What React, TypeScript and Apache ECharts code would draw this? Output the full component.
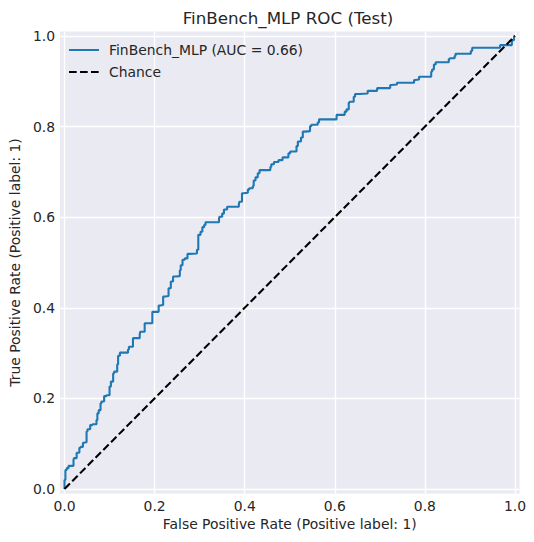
import { useEffect, useRef } from "react";
import * as echarts from "echarts";

// ─── Texts ─────────────────────────────────────────────────────────
const TITLE = "FinBench_MLP ROC (Test)";
const X_NAME = "False Positive Rate (Positive label: 1)";
const Y_NAME = "True Positive Rate (Positive label: 1)";
const MODEL_NAME = "FinBench_MLP (AUC = 0.66)";
const CHANCE_NAME = "Chance";

// ─── Axis ticks ────────────────────────────────────────────────────
const TICKS = [0, 0.2, 0.4, 0.6, 0.8, 1.0];

// ─── ROC vertices ──────────────────────────────────────────────────
const FPR = [
  0, 0.002, 0.005, 0.009, 0.012, 0.02, 0.021, 0.027, 0.033, 0.036, 0.041, 0.043, 0.049, 0.051,
  0.057, 0.062, 0.071, 0.073, 0.076, 0.08, 0.082, 0.088, 0.093, 0.1, 0.103, 0.108, 0.11, 0.117,
  0.119, 0.123, 0.126, 0.141, 0.143, 0.152, 0.154, 0.167, 0.168, 0.178, 0.181, 0.195, 0.196,
  0.209, 0.212, 0.219, 0.224, 0.231, 0.236, 0.241, 0.246, 0.256, 0.258, 0.262, 0.267, 0.273,
  0.277, 0.294, 0.297, 0.297, 0.302, 0.306, 0.31, 0.313, 0.317, 0.343, 0.344, 0.35, 0.354,
  0.361, 0.363, 0.387, 0.388, 0.394, 0.398, 0.407, 0.41, 0.418, 0.42, 0.424, 0.429, 0.433,
  0.437, 0.457, 0.459, 0.465, 0.475, 0.484, 0.497, 0.501, 0.504, 0.515, 0.518, 0.525, 0.529,
  0.534, 0.545, 0.548, 0.562, 0.565, 0.572, 0.604, 0.606, 0.622, 0.626, 0.631, 0.633, 0.642,
  0.645, 0.655, 0.673, 0.675, 0.694, 0.695, 0.723, 0.725, 0.738, 0.739, 0.776, 0.778, 0.787,
  0.789, 0.814, 0.816, 0.82, 0.824, 0.831, 0.853, 0.855, 0.866, 0.868, 0.877, 0.902, 0.905,
  0.912, 0.967, 0.968, 0.993, 0.994, 0.998, 1.0,
];
const TPR = [
  0, 0.02, 0.042, 0.046, 0.051, 0.051, 0.064, 0.068, 0.08, 0.091, 0.093, 0.102, 0.103, 0.127,
  0.132, 0.141, 0.143, 0.152, 0.167, 0.174, 0.189, 0.193, 0.205, 0.207, 0.226, 0.237, 0.255,
  0.259, 0.275, 0.294, 0.301, 0.301, 0.308, 0.314, 0.333, 0.333, 0.34, 0.347, 0.366, 0.366,
  0.391, 0.391, 0.405, 0.406, 0.425, 0.426, 0.443, 0.458, 0.469, 0.47, 0.483, 0.494, 0.506,
  0.509, 0.519, 0.52, 0.528, 0.552, 0.561, 0.568, 0.578, 0.583, 0.589, 0.589, 0.596, 0.601,
  0.608, 0.617, 0.623, 0.623, 0.628, 0.634, 0.653, 0.654, 0.661, 0.664, 0.669, 0.681, 0.688,
  0.697, 0.704, 0.704, 0.711, 0.717, 0.722, 0.726, 0.732, 0.741, 0.745, 0.745, 0.757, 0.767,
  0.776, 0.789, 0.79, 0.801, 0.804, 0.809, 0.816, 0.816, 0.826, 0.826, 0.833, 0.838, 0.853,
  0.855, 0.866, 0.872, 0.873, 0.879, 0.879, 0.885, 0.885, 0.892, 0.893, 0.897, 0.897, 0.903,
  0.904, 0.91, 0.91, 0.921, 0.926, 0.937, 0.942, 0.942, 0.949, 0.951, 0.956, 0.961, 0.961,
  0.967, 0.974, 0.974, 0.98, 0.98, 0.987, 0.991, 1.0,
];

const CHANCE_X = [0, 1];
const CHANCE_Y = [0, 1];

// ─── Style (seaborn darkgrid look) ─────────────────────────────────
const FONT = "DejaVu Sans";
const TEXT = "#262626";
const PANEL = "#EAEAF2";
const BLUE = "#1f77b4";

function buildOption() {
  const axisCommon = {
    type: "value" as const,
    min: -0.01,
    max: 1.01,
    nameLocation: "middle" as const,
    nameTextStyle: { color: TEXT, fontSize: 13.9, fontFamily: FONT },
    axisLine: { show: false },
    axisTick: { show: false, customValues: TICKS },
    axisLabel: {
      customValues: TICKS,
      color: TEXT,
      fontSize: 13.9,
      fontFamily: FONT,
      margin: 5,
      formatter: (v: number) => v.toFixed(1),
    },
    splitLine: { show: true, lineStyle: { color: "#ffffff", width: 1.4 } },
  };

  return {
    animation: false,
    backgroundColor: "#ffffff",
    textStyle: { fontFamily: FONT },
    title: {
      text: TITLE,
      left: 288,
      top: 9,
      padding: 0,
      textAlign: "center" as const,
      textStyle: { color: TEXT, fontSize: 16.7, fontWeight: "normal" as const, fontFamily: FONT },
    },
    legend: {
      orient: "vertical" as const,
      left: 68,
      top: 43,
      itemWidth: 30,
      itemHeight: 14,
      itemGap: 8,
      padding: 0,
      // hide the symbol in the middle of the legend line, keep the line itself
      itemStyle: { opacity: 0 },
      textStyle: { color: TEXT, fontSize: 13.9, fontFamily: FONT, padding: [0, 0, 0, 5] },
      data: [MODEL_NAME, CHANCE_NAME],
    },
    grid: {
      left: 56.5,
      top: 31.5,
      width: 463,
      height: 462,
      show: true,
      backgroundColor: PANEL,
      borderWidth: 0,
    },
    xAxis: { ...axisCommon, name: X_NAME, nameGap: 23.5 },
    yAxis: { ...axisCommon, name: Y_NAME, nameGap: 32.5 },
    series: [
      {
        type: "line" as const,
        name: MODEL_NAME,
        step: "start" as const,
        symbol: "none",
        lineStyle: { color: BLUE, width: 2.1 },
        itemStyle: { color: BLUE },
        data: FPR.map((x, i) => [x, TPR[i]]),
        z: 3,
      },
      {
        type: "line" as const,
        name: CHANCE_NAME,
        symbol: "none",
        lineStyle: { color: "#000000", width: 2.1, type: [7.7, 3.3] },
        itemStyle: { color: "#000000" },
        data: CHANCE_X.map((x, i) => [x, CHANCE_Y[i]]),
        z: 4,
      },
    ],
  };
}

export default function App() {
  const ref = useRef<HTMLDivElement>(null);

  useEffect(() => {
    document.body.style.margin = "0";
    if (!ref.current) return;
    const chart = echarts.init(ref.current, undefined, { renderer: "svg" });
    chart.setOption(buildOption());
    return () => chart.dispose();
  }, []);

  return <div ref={ref} style={{ width: 534, height: 542 }} />;
}
